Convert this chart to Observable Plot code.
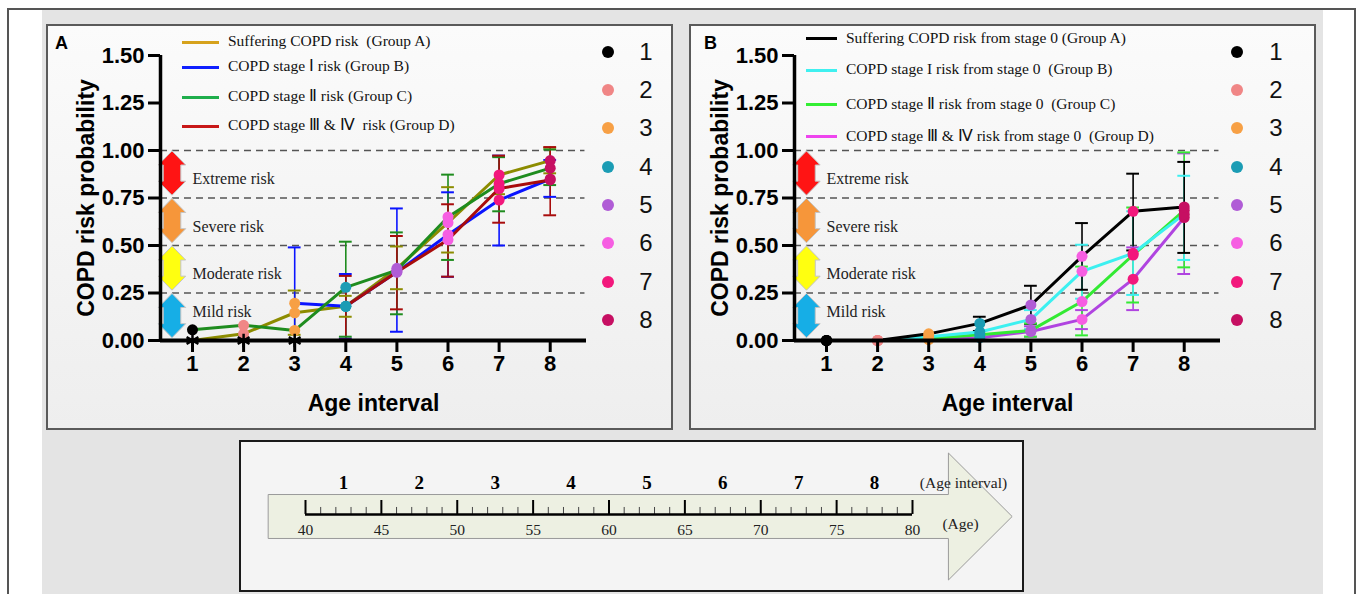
<!DOCTYPE html>
<html><head><meta charset="utf-8">
<script src="https://cdn.jsdelivr.net/npm/d3@7"></script>
<script src="https://cdn.jsdelivr.net/npm/@observablehq/plot@0.6"></script>
<style>
html,body{margin:0;padding:0;background:#fff;}
body{width:1357px;height:594px;position:relative;overflow:hidden;font-family:"Liberation Sans",Arial,sans-serif;}
.abs{position:absolute;}
.panel{box-sizing:border-box;border:2px solid #5a5a5a;background:linear-gradient(#fbfbfb,#eeeeee);}
.serif{font-family:"Liberation Serif","Times New Roman",serif;}
.leg-line{position:absolute;height:3px;}
.leg-text{position:absolute;font-size:15.5px;line-height:18px;white-space:pre;color:#111;}
.dot{position:absolute;width:12px;height:12px;border-radius:50%;}
.num{position:absolute;width:30px;text-align:center;font-size:24px;line-height:24px;color:#111;}
.letter{position:absolute;font-weight:bold;font-size:18px;line-height:18px;}
</style></head>
<body>
<div class="abs" style="left:42px;top:10px;width:1281px;height:590px;background:#e4e4e4;"></div>
<div class="abs" style="left:7px;top:8px;width:1349px;height:600px;box-sizing:border-box;border:2px solid #555;border-bottom:none;"></div>
<div class="abs panel" style="left:46px;top:24px;width:627px;height:406px;"></div>
<div class="abs panel" style="left:689px;top:24px;width:627px;height:406px;"></div>
<div class="abs" style="left:239px;top:440px;width:785px;height:152px;box-sizing:border-box;border:2px solid #1a1a1a;background:#f4f4f4;"></div>
<div id="chartA" class="abs" style="left:46px;top:24px;"></div>
<div id="chartB" class="abs" style="left:680px;top:24px;"></div>
<div id="timeline" class="abs" style="left:239px;top:440px;"></div>
<div id="legends"></div>
<div class="letter" style="left:55px;top:34px;">A</div>
<div class="letter" style="left:704px;top:34px;">B</div>
<script>
// ---------- shared data ----------
const intervals = [1, 2, 3, 4, 5, 6, 7, 8];
const intervalColors = ["#000000", "#f08686", "#f7a045", "#1b9cb4", "#b05cd6", "#f65ee2", "#f2187c", "#c60f62"];
const yTicks = [0, 0.25, 0.5, 0.75, 1, 1.25, 1.5];
const riskBands = [
  {label: "Extreme risk", lo: 0.75, hi: 1.0, color: "#ff1414"},
  {label: "Severe risk", lo: 0.5, hi: 0.75, color: "#f6963a"},
  {label: "Moderate risk", lo: 0.25, hi: 0.5, color: "#ffff10"},
  {label: "Mild risk", lo: 0, hi: 0.25, color: "#16aee6"}
];

// ---------- panel A ----------
const groupNamesA = ["Suffering COPD risk  (Group A)", "COPD stage Ⅰ risk (Group B)", "COPD stage Ⅱ risk (Group C)", "COPD stage Ⅲ & Ⅳ  risk (Group D)"];
const legendColorsA = ["#d6a21c", "#1020ff", "#1fae4c", "#c81818"];
const lineColorsA = ["#8c8c00", "#0a14ff", "#1e8c1e", "#a80c0c"];
const meanA_groupA = [0, 0.035, 0.146, 0.18, 0.38, 0.62, 0.871, 0.947];
const meanA_groupB = [null, null, 0.196, 0.18, 0.36, 0.557, 0.739, 0.85];
const meanA_groupC = [0.056, 0.08, 0.053, 0.28, 0.37, 0.65, 0.825, 0.907];
const meanA_groupD = [null, null, null, 0.18, 0.36, 0.53, 0.80, 0.845];
const loA_groupA = [null, null, 0.03, 0.125, 0.27, 0.463, 0.77, 0.88];
const hiA_groupA = [null, null, 0.263, 0.235, 0.495, 0.807, 0.97, 1.015];
const loA_groupB = [null, null, 0, 0.01, 0.046, 0.335, 0.50, 0.756];
const hiA_groupB = [null, null, 0.49, 0.35, 0.695, 0.78, 0.973, 0.95];
const loA_groupC = [null, null, null, 0.02, 0.138, 0.424, 0.68, 0.818];
const hiA_groupC = [null, null, null, 0.52, 0.569, 0.873, 0.965, 1.005];
const loA_groupD = [null, null, null, 0.005, 0.164, 0.336, 0.62, 0.659];
const hiA_groupD = [null, null, null, 0.34, 0.55, 0.717, 0.973, 1.018];
const zeroMarksA = [1, 2, 3];

// ---------- panel B ----------
const groupNamesB = ["Suffering COPD risk from stage 0 (Group A)", "COPD stage I risk from stage 0  (Group B)", "COPD stage Ⅱ risk from stage 0  (Group C)", "COPD stage Ⅲ & Ⅳ risk from stage 0  (Group D)"];
const legendColorsB = ["#000000", "#40f0f0", "#33ee33", "#ee44ee"];
const lineColorsB = ["#000000", "#3cf0f0", "#33ea33", "#b044e0"];
const meanB_groupA = [0, 0, 0.035, 0.09, 0.187, 0.443, 0.68, 0.703];
const meanB_groupB = [0, 0, 0.02, 0.045, 0.111, 0.364, 0.459, 0.665];
const meanB_groupC = [0, 0, 0.01, 0.03, 0.053, 0.205, 0.45, 0.685];
const meanB_groupD = [0, 0, 0.005, 0.015, 0.047, 0.111, 0.323, 0.647];
const loB_groupA = [null, null, null, 0.05, 0.088, 0.267, 0.474, 0.461];
const hiB_groupA = [null, null, null, 0.125, 0.288, 0.618, 0.878, 0.94];
const loB_groupB = [null, null, null, null, 0.06, 0.22, 0.24, 0.424];
const hiB_groupB = [null, null, null, null, 0.16, 0.504, 0.68, 0.867];
const loB_groupC = [null, null, null, null, 0.02, 0.027, 0.2, 0.385];
const hiB_groupC = [null, null, null, null, 0.09, 0.389, 0.70, 0.99];
const loB_groupD = [null, null, null, null, 0.02, 0.06, 0.16, 0.35];
const hiB_groupD = [null, null, null, null, 0.075, 0.16, 0.49, 0.985];

// ---------- timeline ----------
const ageTicks = [40, 45, 50, 55, 60, 65, 70, 75, 80];
const ageYears = d3.range(40, 81);
const timelineArrow = [{age: 37.6, half: 0.346}, {age: 82.4, half: 0.346}, {age: 82.4, half: 1}, {age: 86.6, half: 0}];

// ---------- helpers ----------
const X0 = 0.374, X1 = 8.71, XD = 8.68;
const CAP = 0.125;
function arrowShape(b, cx) {
  const top = b.hi - 0.005, bot = b.lo + 0.012, hh = 0.074, hw = 0.268, sw = 0.172;
  return [
    {y: top, x1: cx, x2: cx},
    {y: top - hh, x1: cx - hw, x2: cx + hw},
    {y: top - hh, x1: cx - sw, x2: cx + sw},
    {y: bot + hh, x1: cx - sw, x2: cx + sw},
    {y: bot + hh, x1: cx - hw, x2: cx + hw},
    {y: bot, x1: cx, x2: cx}
  ];
}

function panel({means, los, his, lineColors, zeroMarks, dotZeros, width, marginRight, arrowX, order}) {
  const rows = [];
  order.forEach(g => means[g].forEach((v, i) => {
    if (v != null) rows.push({g, x: intervals[i], y: v, lo: los[g][i], hi: his[g][i], dot: intervalColors[i], stroke: lineColors[g]});
  }));
  const errs = rows.filter(d => d.lo != null && d.hi != null);
  const dots = rows.filter(d => dotZeros || d.y > 0);
  const bf = "Liberation Sans, Arial, sans-serif";
  return Plot.plot({
    width, height: 406, marginLeft: 114, marginRight, marginTop: 31, marginBottom: 90,
    x: {domain: [X0, X1]},
    y: {domain: [0, 1.5]},
    color: {type: "identity"},
    style: {background: "transparent", overflow: "visible", color: "#000"},
    marks: [
      Plot.ruleY(riskBands.map(b => b.hi), {x1: X0, x2: XD, stroke: "#555", strokeWidth: 1.3, strokeDasharray: "7,5"}),
      ...riskBands.map(b => Plot.areaX(arrowShape(b, arrowX), {y: "y", x1: "x1", x2: "x2", fill: b.color, stroke: "#c4c4c4", strokeWidth: 1})),
      Plot.text(riskBands, {x: () => 1, y: d => Math.max(d.hi - 0.15, 0.15), text: "label", textAnchor: "start", fontFamily: "Liberation Serif, Times New Roman, serif", fontSize: 16, fill: "#222"}),
      Plot.ruleX(errs, {x: "x", y1: "lo", y2: "hi", stroke: "stroke", strokeWidth: 1.6}),
      Plot.ruleY(errs, {y: "lo", x1: d => d.x - CAP, x2: d => d.x + CAP, stroke: "stroke", strokeWidth: 2}),
      Plot.ruleY(errs, {y: "hi", x1: d => d.x - CAP, x2: d => d.x + CAP, stroke: "stroke", strokeWidth: 2}),
      Plot.line(rows, {x: "x", y: "y", z: "g", stroke: "stroke", strokeWidth: 3}),
      Plot.dot(dots, {x: "x", y: "y", r: 5.5, fill: "dot"}),
      Plot.dot(zeroMarks, {x: d => d, y: () => 0, symbol: "asterisk", r: 6.5, stroke: "#000", strokeWidth: 2.5}),
      Plot.ruleX([X0], {y1: 0, y2: 1.5, strokeWidth: 3.5, stroke: "#000"}),
      Plot.ruleY([0], {x1: X0, x2: X1, strokeWidth: 4, stroke: "#000"}),
      Plot.axisY({ticks: yTicks, tickFormat: d3.format(".2f"), tickSize: 12, strokeWidth: 3, tickPadding: 4, fontSize: 22, fontWeight: "bold", fontFamily: bf, label: null}),
      Plot.axisX({ticks: intervals, tickFormat: d => String(d), tickSize: 12, strokeWidth: 3, tickPadding: 3, fontSize: 22, fontWeight: "bold", fontFamily: bf, label: null}),
      Plot.text(["COPD risk probability"], {text: d => d, frameAnchor: "left", textAnchor: "middle", rotate: -90, dx: -74, fontSize: 23, fontWeight: "bold", fontFamily: bf}),
      Plot.text(["Age interval"], {text: d => d, frameAnchor: "bottom", dy: 70, fontSize: 23, fontWeight: "bold", fontFamily: bf})
    ]
  });
}

document.getElementById("chartA").append(panel({
  means: [meanA_groupA, meanA_groupB, meanA_groupC, meanA_groupD],
  los: [loA_groupA, loA_groupB, loA_groupC, loA_groupD],
  his: [hiA_groupA, hiA_groupB, hiA_groupC, hiA_groupD],
  lineColors: lineColorsA, zeroMarks: zeroMarksA, dotZeros: false,
  width: 627, marginRight: 87, arrowX: 0.609, order: [0, 1, 2, 3]
}));
document.getElementById("chartB").append(panel({
  means: [meanB_groupA, meanB_groupB, meanB_groupC, meanB_groupD],
  los: [loB_groupA, loB_groupB, loB_groupC, loB_groupD],
  his: [hiB_groupA, hiB_groupB, hiB_groupC, hiB_groupD],
  lineColors: lineColorsB, zeroMarks: [], dotZeros: true,
  width: 636, marginRight: 96, arrowX: 0.618, order: [3, 2, 1, 0]
}));

// timeline
const serif = "Liberation Serif, Times New Roman, serif";
document.getElementById("timeline").append(Plot.plot({
  width: 785, height: 152, marginLeft: 66, marginRight: 112, marginTop: 13, marginBottom: 12,
  x: {domain: [40, 80], range: [66, 673], axis: null},
  y: {domain: [-1, 1], range: [140, 13], axis: null},
  style: {background: "transparent", overflow: "visible", color: "#000"},
  marks: [
    Plot.areaY(timelineArrow, {x: "age", y1: d => -d.half, y2: d => d.half, fill: "#edf0e2", stroke: "#9a9a9a", strokeWidth: 1}),
    Plot.ruleX(ageYears.filter(a => a % 5 !== 0), {x: d => d, y1: 0.04, y2: 0.15, stroke: "#444", strokeWidth: 1}),
    Plot.ruleX(ageTicks, {x: d => d, y1: 0.04, y2: 0.26, stroke: "#000", strokeWidth: 2}),
    Plot.ruleY([0.04], {x1: 40, x2: 80, stroke: "#000", strokeWidth: 2.5}),
    Plot.text(ageTicks, {x: d => d, y: () => -0.21, text: d => String(d), fontFamily: serif, fontSize: 15.5, fill: "#222"}),
    Plot.text(intervals, {x: d => 40 + 5 * (d - 1) + 2.5, y: () => 0.54, text: d => String(d), fontFamily: serif, fontSize: 19, fontWeight: "bold"}),
    Plot.text(["(Age interval)"], {text: d => d, frameAnchor: "right", textAnchor: "middle", y: () => 0.54, dx: 51, fontFamily: serif, fontSize: 15.5, fill: "#222"}),
    Plot.text(["(Age)"], {text: d => d, frameAnchor: "right", textAnchor: "middle", y: () => -0.118, dx: 48, fontFamily: serif, fontSize: 15.5, fill: "#222"})
  ]
}));

// legends (HTML)
const leg = document.getElementById("legends");
function lineLegend(names, colors, rowsY, lineX, lineW, textX) {
  names.forEach((n, i) => {
    const l = document.createElement("div");
    l.className = "leg-line";
    l.style.cssText = `left:${lineX}px;top:${rowsY[i] - 1.5}px;width:${lineW}px;background:${colors[i]};`;
    const t = document.createElement("div");
    t.className = "leg-text serif";
    t.style.cssText = `left:${textX}px;top:${rowsY[i] - 10}px;`;
    t.textContent = n;
    leg.append(l, t);
  });
}
lineLegend(groupNamesA, legendColorsA, [42, 67, 97, 126], 182, 37, 228);
lineLegend(groupNamesB, legendColorsB, [38.5, 70, 104.5, 136.5], 806, 31, 846);
function dotLegend(dotX, numX) {
  intervals.forEach((k, i) => {
    const y = 51.7 + i * 38.3;
    const d = document.createElement("div");
    d.className = "dot";
    d.style.cssText = `left:${dotX - 6}px;top:${y - 6}px;background:${intervalColors[i]};`;
    const n = document.createElement("div");
    n.className = "num";
    n.style.cssText = `left:${numX - 15}px;top:${y - 12}px;`;
    n.textContent = String(k);
    leg.append(d, n);
  });
}
dotLegend(608, 646);
dotLegend(1237, 1276);
</script>
</body></html>
